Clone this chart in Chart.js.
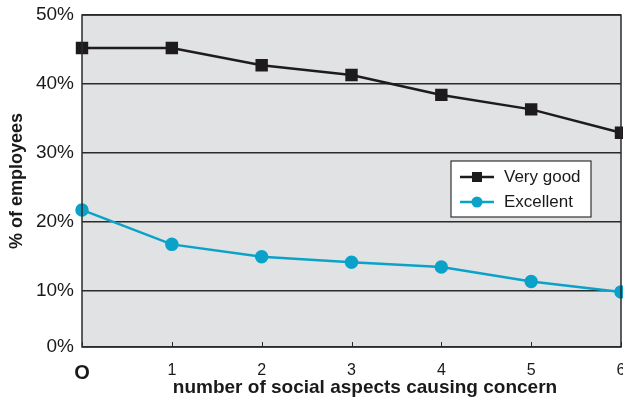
<!DOCTYPE html>
<html>
<head>
<meta charset="utf-8">
<script src="https://cdn.jsdelivr.net/npm/chart.js@4/dist/chart.umd.min.js"></script>
<style>
  html, body { margin: 0; padding: 0; background: #fff; }
  #wrap { width: 623px; height: 400px; }
</style>
</head>
<body>
<div id="wrap"><canvas id="line"></canvas></div>
<script>
// number of social aspects causing concern
const aspects = [0, 1, 2, 3, 4, 5, 6];
const veryGood = [45.2, 45.2, 42.7, 41.3, 38.4, 36.3, 32.9];
const excellent = [21.7, 16.7, 14.9, 14.1, 13.4, 11.3, 9.8];
const yTicks = [0, 10, 20, 30, 40, 50];
const seriesNames = ['Very good', 'Excellent'];
const xTitle = 'number of social aspects causing concern';

const yBottom = 1.8; // the original axis is cut a little above 0
const FONT = '"Liberation Sans", Arial, sans-serif';

const plotFrame = {
  id: 'plotFrame',
  beforeDraw(chart) {
    const { ctx, chartArea: a } = chart;
    ctx.save();
    ctx.fillStyle = '#e1e2e4';
    ctx.fillRect(a.left, a.top, a.right - a.left, a.bottom - a.top);
    ctx.restore();
  },
  afterDatasetsDraw(chart) {
    const { ctx, chartArea: a } = chart;
    const x = chart.scales.x;
    ctx.save();
    ctx.strokeStyle = '#2b2b2b';
    ctx.lineWidth = 1.5;
    ctx.strokeRect(a.left, a.top, a.right - a.left, a.bottom - a.top);
    // small ticks inside on bottom axis
    ctx.lineWidth = 1;
    aspects.forEach(v => {
      const px = Math.round(x.getPixelForValue(v)) + 0.5;
      ctx.beginPath();
      ctx.moveTo(px, a.bottom);
      ctx.lineTo(px, a.bottom - 5);
      ctx.stroke();
    });
    // x title
    ctx.fillStyle = '#1a1a1a';
    ctx.font = 'bold 19px ' + FONT;
    ctx.textAlign = 'center';
    ctx.textBaseline = 'middle';
    ctx.fillText(xTitle, 365, 388);
    // legend box
    const bx = 451, by = 161, bw = 140, bh = 56;
    ctx.textAlign = 'left';
    ctx.fillStyle = '#fff';
    ctx.fillRect(bx, by, bw, bh);
    ctx.strokeStyle = '#333';
    ctx.lineWidth = 1.2;
    ctx.strokeRect(bx, by, bw, bh);
    chart.data.datasets.forEach((ds, i) => {
      const ly = by + 16 + i * 25;
      ctx.strokeStyle = ds.borderColor;
      ctx.lineWidth = 2.5;
      ctx.beginPath();
      ctx.moveTo(bx + 9, ly);
      ctx.lineTo(bx + 43, ly);
      ctx.stroke();
      ctx.fillStyle = ds.backgroundColor;
      if (ds.pointStyle === 'rect') {
        ctx.fillRect(bx + 21, ly - 5, 10, 10);
      } else {
        ctx.beginPath();
        ctx.arc(bx + 26, ly, 5.5, 0, Math.PI * 2);
        ctx.fill();
      }
      ctx.fillStyle = '#1a1a1a';
      ctx.font = '17px ' + FONT;
      ctx.fillText(ds.label, bx + 53, ly);
    });
    ctx.restore();
  }
};

new Chart(document.getElementById('line'), {
  type: 'line',
  data: {
    labels: aspects,
    datasets: [
      {
        label: seriesNames[0],
        data: aspects.map((a, i) => ({ x: a, y: veryGood[i] })),
        borderColor: '#1e1b1c',
        backgroundColor: '#1e1b1c',
        borderWidth: 2.5,
        pointStyle: 'rect',
        pointRadius: 7,
        clip: false
      },
      {
        label: seriesNames[1],
        data: aspects.map((a, i) => ({ x: a, y: excellent[i] })),
        borderColor: '#0ba2c9',
        backgroundColor: '#0ba2c9',
        borderWidth: 2.5,
        pointStyle: 'circle',
        pointRadius: 5.5,
        clip: false
      }
    ]
  },
  options: {
    responsive: true,
    maintainAspectRatio: false,
    animation: false,
    layout: { autoPadding: false, padding: { top: 15, right: 2, left: 0, bottom: 0 } },
    plugins: { legend: { display: false }, tooltip: { enabled: false } },
    elements: { line: { tension: 0 } },
    scales: {
      x: {
        type: 'linear',
        min: 0,
        max: 6,
        afterFit(scale) {
          scale.height = 53;
          scale.paddingLeft = 0;
          scale.paddingRight = 0;
        },
        afterBuildTicks(scale) { scale.ticks = aspects.map(v => ({ value: v })); },
        grid: { display: false },
        border: { display: false },
        ticks: {
          padding: 6,
          color: '#1a1a1a',
          maxRotation: 0,
          font: ctx => ctx.index === 0
            ? { family: FONT, size: 20, weight: 'bold' }
            : { family: FONT, size: 16 },
          callback: v => v === 0 ? 'O' : String(v)
        },
        title: { display: false }
      },
      y: {
        min: yBottom,
        max: 50,
        afterFit(scale) {
          scale.width = 82;
          scale.paddingTop = 0;
          scale.paddingBottom = 0;
        },
        afterBuildTicks(scale) {
          scale.ticks = yTicks.map(v => ({ value: v === 0 ? yBottom : v }));
        },
        grid: {
          color: '#2b2b2b',
          lineWidth: 1.5,
          drawTicks: false
        },
        border: { display: false },
        ticks: {
          padding: 8,
          color: '#1a1a1a',
          font: { family: FONT, size: 19 },
          callback: v => (v < 5 ? 0 : v) + '%'
        },
        title: {
          display: true,
          text: '% of employees',
          color: '#1a1a1a',
          font: { family: FONT, size: 18, weight: 'bold' },
          padding: { top: 6, bottom: 0 }
        }
      }
    }
  },
  plugins: [plotFrame]
});
</script>
</body>
</html>
